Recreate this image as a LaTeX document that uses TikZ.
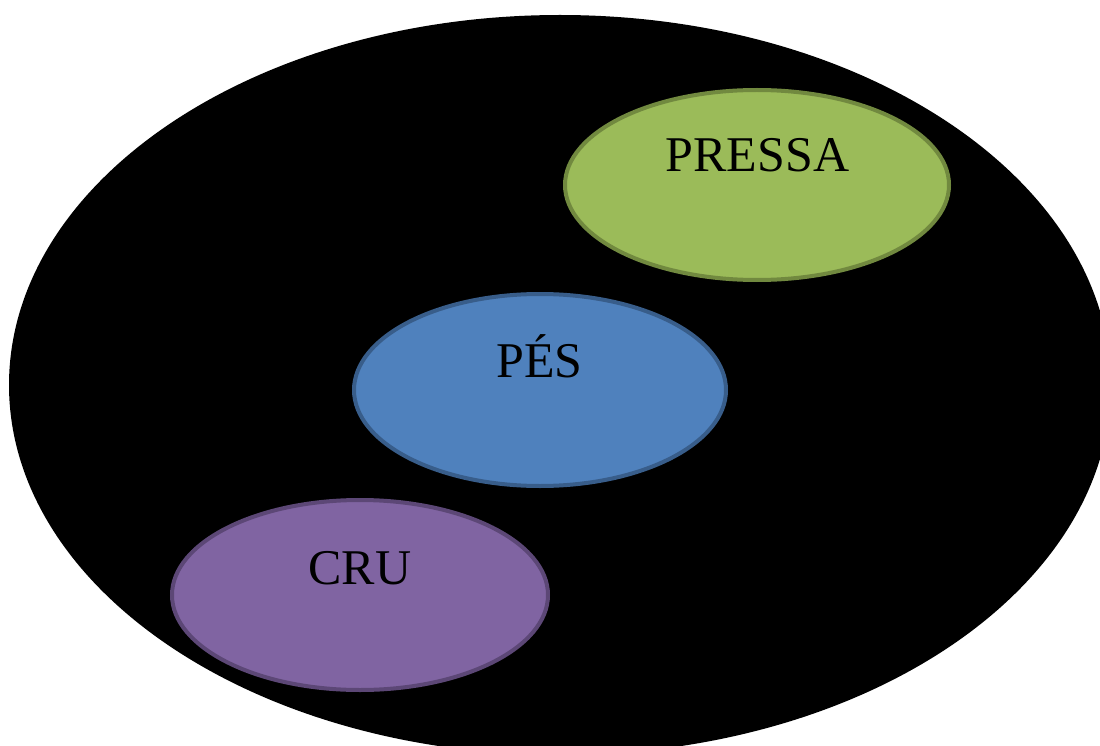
\documentclass[tikz,border=0pt]{standalone}
\usepackage{fontspec}
\setmainfont{Liberation Serif}
\usetikzlibrary{shapes.geometric}
\definecolor{greenfill}{HTML}{9BBB59}
\definecolor{greenedge}{HTML}{71893F}
\definecolor{bluefill}{HTML}{4F81BD}
\definecolor{blueedge}{HTML}{385D8A}
\definecolor{purplefill}{HTML}{8064A2}
\definecolor{purpleedge}{HTML}{5C4776}
\tikzset{
  blob/.style={line width=4pt},
  lbl/.style={anchor=base, inner sep=0pt, font=\fontsize{50}{60}\selectfont, text=black}
}
\begin{document}
\begin{tikzpicture}[x=1pt, y=-1pt]
  \useasboundingbox (0,0) rectangle (1100,746);
  \clip (0,0) rectangle (1100,746);
  % outer set
  \fill[black] (560,385) ellipse [x radius=551, y radius=370];
  % inner sets
  \draw[blob, fill=greenfill, draw=greenedge] (757,185) ellipse [x radius=192, y radius=95];
  \draw[blob, fill=bluefill, draw=blueedge] (540,390) ellipse [x radius=186, y radius=96];
  \draw[blob, fill=purplefill, draw=purpleedge] (360,595) ellipse [x radius=188, y radius=95];
  % labels
  \node[lbl] (pressa) at (757.5,172) {PRESSA};
  \node[lbl] (pes) at (539.5,377) {PÉS};
  \node[lbl] (cru) at (360,584) {CRU};
\end{tikzpicture}
\end{document}
